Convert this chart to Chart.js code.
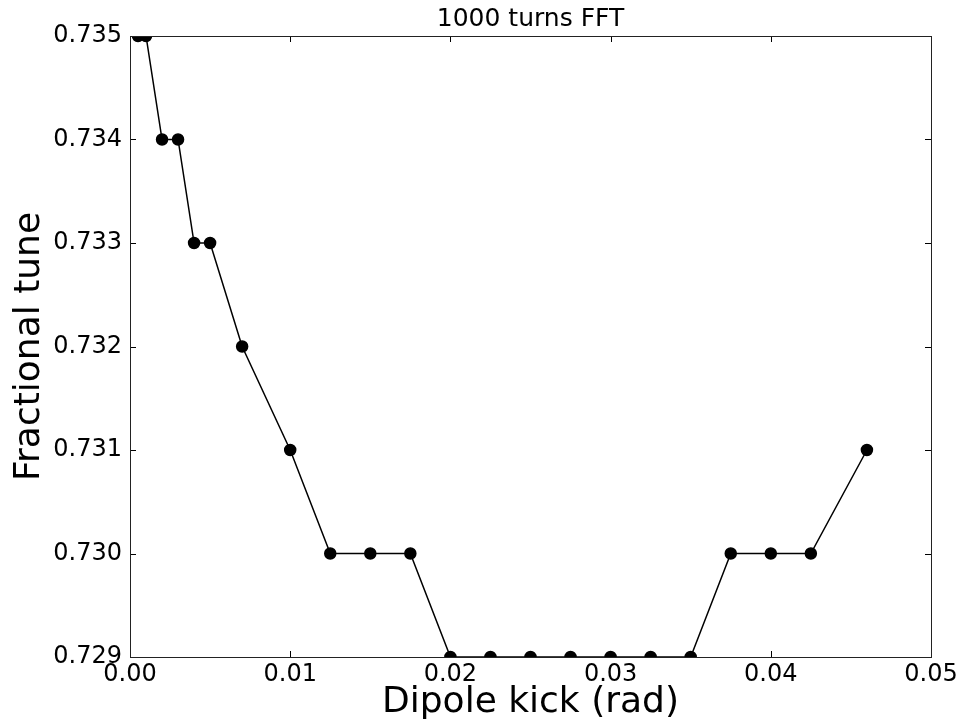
<!DOCTYPE html>
<html>
<head>
<meta charset="utf-8">
<script src="https://cdn.jsdelivr.net/npm/chart.js@4/dist/chart.umd.min.js"></script>
<style>
  html, body { margin: 0; padding: 0; background: #fff; }
  #wrap { width: 957px; height: 726px; }
</style>
</head>
<body>
<div id="wrap"><canvas id="tuneChart"></canvas></div>
<script>
// Data
const kicks = [0.0005, 0.001, 0.002, 0.003, 0.004, 0.005, 0.007, 0.01, 0.0125, 0.015, 0.0175,
               0.02, 0.0225, 0.025, 0.0275, 0.03, 0.0325, 0.035, 0.0375, 0.04, 0.0425, 0.046];
const tunes = [0.735, 0.735, 0.734, 0.734, 0.733, 0.733, 0.732, 0.731, 0.730, 0.730, 0.730,
               0.729, 0.729, 0.729, 0.729, 0.729, 0.729, 0.729, 0.730, 0.730, 0.730, 0.731];

// Tick positions
const xTicks = [0.00, 0.01, 0.02, 0.03, 0.04, 0.05];
const yTicks = [0.729, 0.730, 0.731, 0.732, 0.733, 0.734, 0.735];

const points = kicks.map((k, i) => ({ x: k, y: tunes[i] }));

// matplotlib style frame + inward ticks on all four sides
const frameTicks = {
    id: 'frameTicks',
    afterDraw(chart) {
        const ctx = chart.ctx;
        const a = chart.chartArea;
        const xs = chart.scales.x;
        const ys = chart.scales.y;
        const len = 6;
        ctx.save();
        ctx.strokeStyle = '#000';
        ctx.lineWidth = 1;
        ctx.beginPath();
        xTicks.forEach(t => {
            const px = Math.round(xs.getPixelForValue(t)) + 0.5;
            ctx.moveTo(px, a.bottom); ctx.lineTo(px, a.bottom - len);
            ctx.moveTo(px, a.top); ctx.lineTo(px, a.top + len);
        });
        yTicks.forEach(t => {
            const py = Math.round(ys.getPixelForValue(t)) + 0.5;
            ctx.moveTo(a.left, py); ctx.lineTo(a.left + len, py);
            ctx.moveTo(a.right, py); ctx.lineTo(a.right - len, py);
        });
        ctx.stroke();
        ctx.strokeStyle = '#222';
        ctx.strokeRect(Math.round(a.left) + 0.5, Math.round(a.top) + 0.5,
                       Math.round(a.right - a.left), Math.round(a.bottom - a.top));
        ctx.restore();
    }
};

Chart.defaults.font.family = '"DejaVu Sans", sans-serif';
Chart.defaults.color = '#000';

const ctx = document.getElementById('tuneChart').getContext('2d');
const tuneChart = new Chart(ctx, {
    type: 'scatter',
    data: {
        datasets: [{
            data: points,
            showLine: true,
            borderColor: '#000',
            borderWidth: 1.5,
            backgroundColor: '#000',
            pointBackgroundColor: '#000',
            pointBorderColor: '#000',
            pointRadius: 5.5,
            pointHoverRadius: 5.5,
            tension: 0
        }]
    },
    options: {
        responsive: true,
        maintainAspectRatio: false,
        animation: false,
        layout: { padding: 0 },
        plugins: {
            legend: { display: false },
            tooltip: { enabled: false },
            title: {
                display: true,
                fullSize: false,
                text: '1000 turns FFT',
                color: '#000',
                font: { size: 25, weight: 'normal' },
                padding: { top: 4, bottom: 2 }
            }
        },
        scales: {
            x: {
                type: 'linear',
                min: 0,
                max: 0.05,
                grid: { display: false, drawTicks: false },
                border: { display: false },
                afterBuildTicks: s => { s.ticks = xTicks.map(v => ({ value: v })); },
                afterFit: s => { s.height = 69; s.paddingLeft = 0; s.paddingRight = 26; },
                ticks: {
                    padding: 3,
                    maxRotation: 0,
                    font: { size: 24 },
                    callback: v => Number(v).toFixed(2)
                },
                title: {
                    display: true,
                    text: 'Dipole kick (rad)',
                    font: { size: 36 },
                    padding: { top: 0, bottom: 2 }
                }
            },
            y: {
                type: 'linear',
                min: 0.729,
                max: 0.735,
                grid: { display: false, drawTicks: false },
                border: { display: false },
                afterBuildTicks: s => { s.ticks = yTicks.map(v => ({ value: v })); },
                afterFit: s => { s.width = 130; },
                ticks: {
                    padding: 8,
                    font: { size: 24 },
                    callback: v => Number(v).toFixed(3)
                },
                title: {
                    display: true,
                    text: 'Fractional tune',
                    font: { size: 36 },
                    padding: { top: 8, bottom: 0 }
                }
            }
        }
    },
    plugins: [frameTicks]
});
</script>
</body>
</html>
